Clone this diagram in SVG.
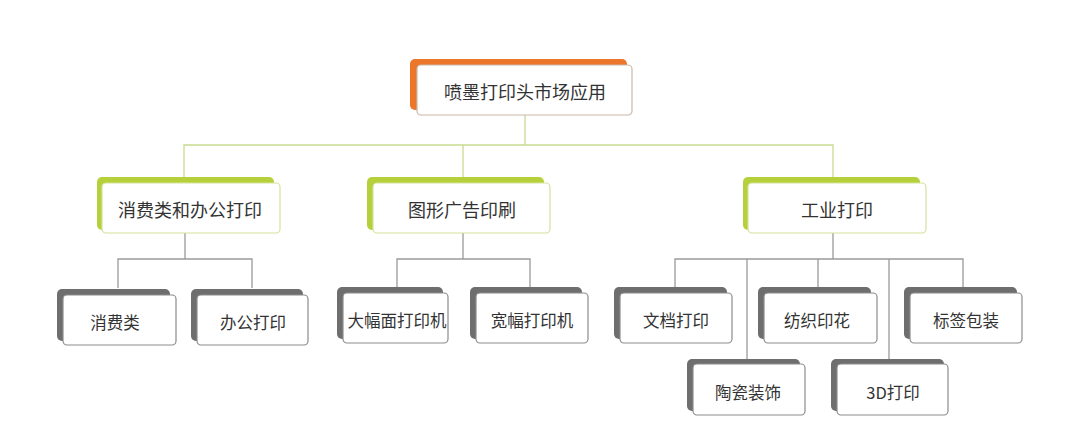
<svg xmlns="http://www.w3.org/2000/svg" width="1080" height="429" viewBox="0 0 1080 429">
<style>
text{font-family:"Noto Sans CJK SC","Noto Sans",sans-serif;fill:#333;text-anchor:middle;dominant-baseline:central}
.t0{font-size:18px}.t1{font-size:18px}.t2{font-size:16.5px}
.bo{fill:#EC762C}.bg{fill:#B5D03A}.bk{fill:#6E6E6E}
.fo{fill:#fff;stroke:#C9B8A6;stroke-width:1.2}
.fg{fill:#fff;stroke:#D2E39A;stroke-width:1.2}
.fk{fill:#fff;stroke:#8C8C8C;stroke-width:1.2}
.cg{fill:none;stroke:#C8DB90;stroke-width:1.3}
.ck{fill:none;stroke:#9A9A9A;stroke-width:1.3}
</style>
<rect width="1080" height="429" fill="#fff"/>
<g id="connectors">
<path class="cg" d="M525 115V145M184 177V145H833V177M463 145V177"/>
<path class="ck" d="M185 233V259M118 288V259H252V288"/>
<path class="ck" d="M463 233V259M397 288V259H530V288"/>
<path class="ck" d="M833 233V259M675 288V259H963V288M747 259V360M818 259V288M889 259V360"/>
</g>
<g id="root">
<rect class="bo" x="410" y="59" width="217" height="51" rx="5"/>
<rect class="fo" x="417" y="65" width="215" height="50" rx="4"/>
<text class="t0" x="525" y="91">喷墨打印头市场应用</text>
</g>
<g id="n-consumer">
<rect class="bg" x="97" y="177" width="177" height="53" rx="5"/>
<rect class="fg" x="102" y="183" width="178" height="50" rx="4"/>
<text class="t1" x="190" y="209">消费类和办公打印</text>
</g>
<g id="n-graphic">
<rect class="bg" x="367" y="177" width="177" height="53" rx="5"/>
<rect class="fg" x="373" y="183" width="177" height="50" rx="4"/>
<text class="t1" x="462" y="209">图形广告印刷</text>
</g>
<g id="n-industrial">
<rect class="bg" x="743" y="177" width="177" height="53" rx="5"/>
<rect class="fg" x="748" y="183" width="178" height="50" rx="4"/>
<text class="t1" x="837" y="209">工业打印</text>
</g>
<g id="l-xiaofei">
<rect class="bk" x="57" y="289" width="113" height="52" rx="5"/>
<rect class="fk" x="63" y="295" width="113" height="50" rx="4"/>
<text class="t2" x="115" y="322">消费类</text>
</g>
<g id="l-bangong">
<rect class="bk" x="191" y="289" width="112" height="52" rx="5"/>
<rect class="fk" x="197" y="295" width="111" height="50" rx="4"/>
<text class="t2" x="253" y="322">办公打印</text>
</g>
<g id="l-dafu">
<rect class="bk" x="337" y="287" width="106" height="52" rx="5"/>
<rect class="fk" x="343" y="293" width="105" height="50" rx="4"/>
<text class="t2" x="397" y="320">大幅面打印机</text>
</g>
<g id="l-kuanfu">
<rect class="bk" x="470" y="287" width="112" height="52" rx="5"/>
<rect class="fk" x="476" y="293" width="112" height="50" rx="4"/>
<text class="t2" x="532" y="320">宽幅打印机</text>
</g>
<g id="l-wendang">
<rect class="bk" x="614" y="287" width="113" height="52" rx="5"/>
<rect class="fk" x="620" y="293" width="112" height="50" rx="4"/>
<text class="t2" x="676" y="320">文档打印</text>
</g>
<g id="l-fangzhi">
<rect class="bk" x="758" y="287" width="113" height="52" rx="5"/>
<rect class="fk" x="764" y="293" width="113" height="50" rx="4"/>
<text class="t2" x="817" y="320">纺织印花</text>
</g>
<g id="l-biaoqian">
<rect class="bk" x="904" y="287" width="113" height="52" rx="5"/>
<rect class="fk" x="910" y="293" width="112" height="50" rx="4"/>
<text class="t2" x="966" y="320">标签包装</text>
</g>
<g id="l-taoci">
<rect class="bk" x="687" y="359" width="113" height="52" rx="5"/>
<rect class="fk" x="693" y="364" width="112" height="51" rx="4"/>
<text class="t2" x="748" y="392">陶瓷装饰</text>
</g>
<g id="l-3d">
<rect class="bk" x="831" y="359" width="113" height="52" rx="5"/>
<rect class="fk" x="837" y="364" width="111" height="51" rx="4"/>
<text class="t2" x="893" y="392">3D打印</text>
</g>
</svg>
